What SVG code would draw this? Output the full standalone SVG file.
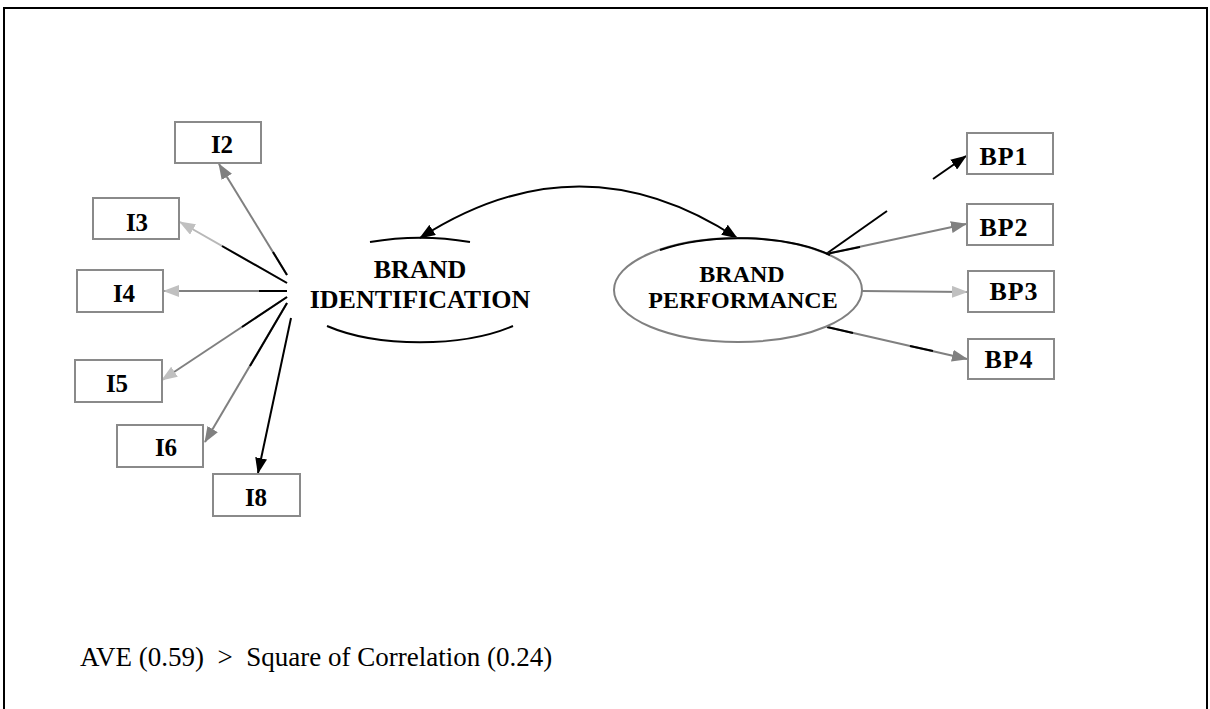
<svg xmlns="http://www.w3.org/2000/svg" width="1210" height="709" viewBox="0 0 1210 709">
<style>
.box{fill:#fff;stroke:#8a8a8a;stroke-width:2}
.lbl{font-family:"Liberation Serif","Times New Roman",serif;font-weight:bold;font-size:25px;fill:#000;text-anchor:middle}
.bp{font-size:26px;letter-spacing:1px}
.lat{font-family:"Liberation Serif","Times New Roman",serif;font-weight:bold;fill:#000;text-anchor:middle}
.g{stroke:#808080;stroke-width:2;fill:none}
.k{stroke:#000;stroke-width:2;fill:none}
.lg{stroke:#b8b8b8;stroke-width:2;fill:none}
</style>
<defs>
<marker id="ak" viewBox="0 0 16 12" refX="15" refY="6" markerWidth="16" markerHeight="12" markerUnits="userSpaceOnUse" orient="auto-start-reverse"><path d="M0,0 L16,6 L0,12 z" fill="#000"/></marker>
<marker id="ag" viewBox="0 0 16 12" refX="15" refY="6" markerWidth="16" markerHeight="12" markerUnits="userSpaceOnUse" orient="auto"><path d="M0,0 L16,6 L0,12 z" fill="#808080"/></marker>
<marker id="al" viewBox="0 0 16 12" refX="15" refY="6" markerWidth="16" markerHeight="12" markerUnits="userSpaceOnUse" orient="auto"><path d="M0,0 L16,6 L0,12 z" fill="#c0c0c0"/></marker>
</defs>
<rect x="4" y="8" width="1203" height="720" fill="#fff" stroke="#000" stroke-width="2"/>

<g id="connectors">
<!-- covariance -->
<path class="k" d="M420,238 Q580,135 737,238" marker-start="url(#ak)" marker-end="url(#ak)"/>
<!-- BI to indicators -->
<line class="g" x1="287" y1="275" x2="219" y2="164" marker-end="url(#ag)"/>
<line class="k" x1="287" y1="275" x2="273" y2="252"/>
<line class="lg" x1="287" y1="283" x2="180" y2="222" marker-end="url(#al)"/>
<line class="k" x1="287" y1="283" x2="222" y2="246"/>
<line class="g" x1="287" y1="291" x2="164" y2="291" marker-end="url(#al)"/>
<line class="k" x1="287" y1="291" x2="259" y2="291"/>
<line class="g" x1="287" y1="297" x2="162" y2="380" marker-end="url(#al)"/>
<line class="k" x1="287" y1="297" x2="242" y2="327"/>
<line class="g" x1="287" y1="303" x2="205" y2="442" marker-end="url(#ag)"/>
<line class="k" x1="287" y1="303" x2="250" y2="366"/>
<line class="k" x1="291" y1="318" x2="258" y2="473" marker-end="url(#ak)"/>
<!-- BP to indicators -->
<line class="k" x1="826" y1="254" x2="887" y2="211"/>
<line class="k" x1="933" y1="179" x2="966" y2="156" marker-end="url(#ak)"/>
<line class="g" x1="826" y1="254" x2="966" y2="224" marker-end="url(#ag)"/>
<line class="k" x1="826" y1="254" x2="860" y2="247"/>
<line class="g" x1="862" y1="291" x2="967" y2="292" marker-end="url(#al)"/>
<line class="g" x1="827" y1="327" x2="967" y2="359" marker-end="url(#ag)"/>
<line class="k" x1="827" y1="327" x2="853" y2="333"/>
<line class="k" x1="910" y1="346" x2="933" y2="351"/>
</g>

<g id="brand-identification">
<path class="k" d="M370,242 A128,52 0 0,1 470,242"/>
<path class="k" d="M327,326 A128,52 0 0,0 513,326"/>
<text class="lat" x="420" y="278" font-size="26">BRAND</text>
<text class="lat" x="420" y="308" font-size="26">IDENTIFICATION</text>
</g>

<g id="brand-performance">
<ellipse cx="738" cy="290" rx="124" ry="52" fill="none" stroke="#808080" stroke-width="2"/>
<path class="k" d="M660,250 A124,52 0 0,1 830,255"/>
<text class="lat" x="742" y="282" font-size="24">BRAND</text>
<text class="lat" x="743" y="308" font-size="24">PERFORMANCE</text>
</g>

<g id="I2"><rect class="box" x="175" y="122" width="86" height="41"/><text class="lbl" x="222" y="153">I2</text></g>
<g id="I3"><rect class="box" x="93" y="198" width="86" height="41"/><text class="lbl" x="137" y="231">I3</text></g>
<g id="I4"><rect class="box" x="77" y="270" width="86" height="42"/><text class="lbl" x="124" y="302">I4</text></g>
<g id="I5"><rect class="box" x="75" y="360" width="87" height="42"/><text class="lbl" x="117" y="392">I5</text></g>
<g id="I6"><rect class="box" x="117" y="425" width="86" height="42"/><text class="lbl" x="166" y="456">I6</text></g>
<g id="I8"><rect class="box" x="213" y="474" width="87" height="42"/><text class="lbl" x="256" y="506">I8</text></g>

<g id="BP1"><rect class="box" x="967" y="133" width="86" height="41"/><text class="lbl bp" x="1004" y="165">BP1</text></g>
<g id="BP2"><rect class="box" x="967" y="204" width="86" height="41"/><text class="lbl bp" x="1004" y="236">BP2</text></g>
<g id="BP3"><rect class="box" x="968" y="271" width="86" height="41"/><text class="lbl bp" x="1014" y="300" fill="#222">BP3</text></g>
<g id="BP4"><rect class="box" x="968" y="339" width="86" height="40"/><text class="lbl bp" x="1009" y="368">BP4</text></g>

<text x="80" y="666" font-family="Liberation Serif, Times New Roman, serif" font-size="27" fill="#000">AVE (0.59)&#160; &gt; &#160;Square of Correlation (0.24)</text>
</svg>
